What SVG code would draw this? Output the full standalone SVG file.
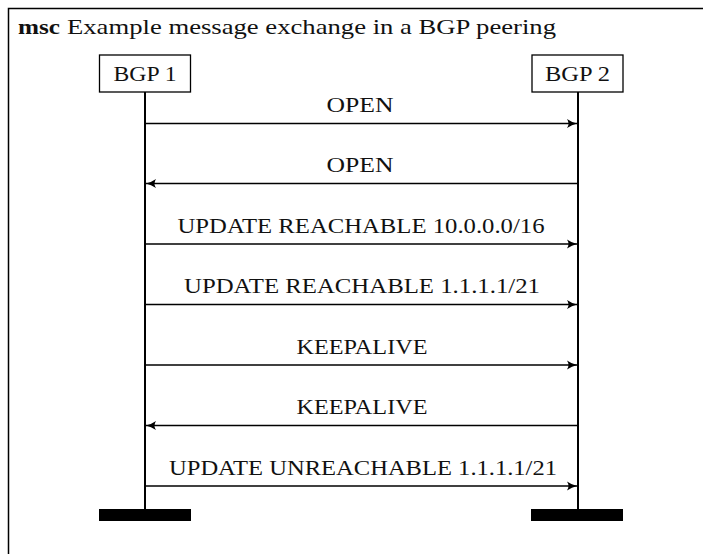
<svg xmlns="http://www.w3.org/2000/svg" width="703" height="554" viewBox="0 0 703 554">
<style>
text{font-family:"Liberation Serif","Times New Roman",serif;fill:#111;}
.lbl{font-size:22px;text-anchor:middle;}
.box{fill:#fff;stroke:#000;stroke-width:1.3;}
.life{stroke:#000;stroke-width:2;}
.msg{stroke:#000;stroke-width:1.3;fill:none;marker-end:url(#ah);}
.end{fill:#000;}
</style>
<defs>
<marker id="ah" viewBox="0 0 12 12" refX="11" refY="6" markerWidth="12" markerHeight="12" markerUnits="userSpaceOnUse" orient="auto">
<path d="M1,1.5 Q6,5 11,6 Q6,7 1,10.5 Q4,6 1,1.5 Z" fill="#000"/>
</marker>
</defs>
<rect x="8.5" y="8.5" width="700" height="560" fill="none" stroke="#000" stroke-width="1.5"/>
<text x="18" y="34" font-size="22"><tspan font-weight="bold" textLength="42" lengthAdjust="spacingAndGlyphs">msc</tspan><tspan x="67" textLength="489" lengthAdjust="spacingAndGlyphs">Example message exchange in a BGP peering</tspan></text>
<g id="bgp1">
<line class="life" x1="145" y1="92" x2="145" y2="510"/>
<rect class="box" x="99.5" y="55" width="91" height="37"/>
<text x="145" y="81" class="lbl" textLength="63" lengthAdjust="spacingAndGlyphs">BGP 1</text>
<rect class="end" x="99" y="509" width="92" height="12"/>
</g>
<g id="bgp2">
<line class="life" x1="578" y1="92" x2="578" y2="510"/>
<rect class="box" x="532" y="55" width="91" height="37"/>
<text x="577.5" y="81" class="lbl" textLength="65" lengthAdjust="spacingAndGlyphs">BGP 2</text>
<rect class="end" x="531" y="509" width="92" height="12"/>
</g>
<g id="connectors">
<line class="msg" x1="145" y1="123.5" x2="577" y2="123.5"/>
<text class="lbl" x="360" y="112" textLength="67" lengthAdjust="spacingAndGlyphs">OPEN</text>
<line class="msg" x1="578" y1="183.5" x2="146" y2="183.5"/>
<text class="lbl" x="360" y="172" textLength="67" lengthAdjust="spacingAndGlyphs">OPEN</text>
<line class="msg" x1="145" y1="244" x2="577" y2="244"/>
<text class="lbl" x="361" y="232.5" textLength="367" lengthAdjust="spacingAndGlyphs">UPDATE REACHABLE 10.0.0.0/16</text>
<line class="msg" x1="145" y1="304.5" x2="577" y2="304.5"/>
<text class="lbl" x="362" y="293" textLength="356" lengthAdjust="spacingAndGlyphs">UPDATE REACHABLE 1.1.1.1/21</text>
<line class="msg" x1="145" y1="365" x2="577" y2="365"/>
<text class="lbl" x="362" y="353.5" textLength="131" lengthAdjust="spacingAndGlyphs">KEEPALIVE</text>
<line class="msg" x1="578" y1="425.5" x2="146" y2="425.5"/>
<text class="lbl" x="362" y="414" textLength="131" lengthAdjust="spacingAndGlyphs">KEEPALIVE</text>
<line class="msg" x1="145" y1="486" x2="577" y2="486"/>
<text class="lbl" x="363" y="474.5" textLength="388" lengthAdjust="spacingAndGlyphs">UPDATE UNREACHABLE 1.1.1.1/21</text>
</g>
</svg>
